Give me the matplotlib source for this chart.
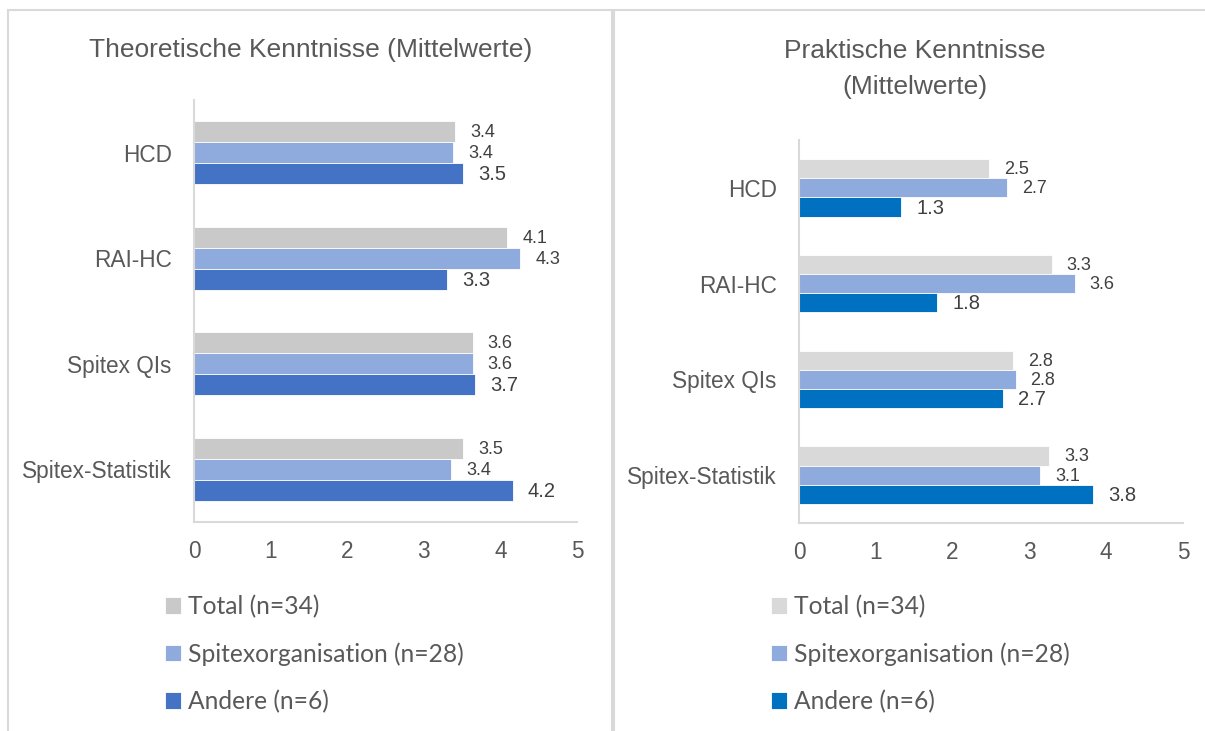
import numpy as np
import matplotlib.pyplot as plt
from matplotlib.patches import Rectangle

# Kategorien und Mittelwerte
kategorien = ['HCD', 'RAI-HC', 'Spitex QIs', 'Spitex-Statistik']
serien = ['Total (n=34)', 'Spitexorganisation (n=28)', 'Andere (n=6)']

theorie_total = [3.41, 4.09, 3.64, 3.51]
theorie_spitex = [3.38, 4.26, 3.64, 3.36]
theorie_andere = [3.51, 3.30, 3.67, 4.16]

praxis_total = [2.47, 3.29, 2.79, 3.26]
praxis_spitex = [2.71, 3.59, 2.82, 3.14]
praxis_andere = [1.33, 1.80, 2.66, 3.83]

farben_links = ['#C9C9C9', '#8FAADC', '#4472C4']
farben_rechts = ['#D9D9D9', '#8FAADC', '#0070C0']

SCHRIFT = ['Liberation Sans', 'DejaVu Sans']
textfarbe = '#595959'

fig = plt.figure(figsize=(12.05, 7.31), dpi=100)

# Rahmen der beiden Diagramme
fig.patches.append(Rectangle((8 / 1205, -0.05), 604 / 1205, 1.05 - 10 / 731,
                             transform=fig.transFigure, fill=False,
                             edgecolor='#D9D9D9', lw=1.5))
fig.patches.append(Rectangle((614 / 1205, -0.05), 600 / 1205, 1.05 - 10 / 731,
                             transform=fig.transFigure, fill=False,
                             edgecolor='#D9D9D9', lw=1.5))


def zeichne(rect, werte, farben, titel, titel_x, titel_y, leg_x):
    ax = fig.add_axes(rect)
    y = np.arange(len(kategorien))
    h = 0.2
    for i, (w, f) in enumerate(zip(werte, farben)):
        pos = y - h + i * h
        ax.barh(pos, w, height=h, color=f, edgecolor='white', linewidth=0.6,
                label=serien[i])
        for p, v in zip(pos, w):
            gross = (i == 2)
            ax.annotate(f'{v:.1f}', (v, p), xytext=(15, -1),
                        textcoords='offset pixels',
                        va='center', ha='left', color='#404040',
                        fontsize=14.5 if gross else 13, family=SCHRIFT)
    ax.set_xlim(0, 5)
    ax.set_ylim(3.5, -0.5)
    ax.set_xticks(range(6))
    ax.set_yticks(y)
    ax.set_yticklabels(kategorien)
    for s in ['top', 'right']:
        ax.spines[s].set_visible(False)
    for s in ['left', 'bottom']:
        ax.spines[s].set_color('#D9D9D9')
        ax.spines[s].set_linewidth(1.5)
    ax.tick_params(axis='both', length=0, colors=textfarbe)
    ax.tick_params(axis='y', pad=16)
    ax.tick_params(axis='x', pad=13)
    for t in ax.get_xticklabels() + ax.get_yticklabels():
        t.set_family(SCHRIFT)
        t.set_fontsize(16.3)
    fig.text(titel_x, titel_y, titel, ha='center', va='center',
             fontsize=19, color=textfarbe, family=SCHRIFT, linespacing=1.6)
    hdl, lab = ax.get_legend_handles_labels()
    leg = ax.legend(hdl, lab, loc='upper left', bbox_to_anchor=(leg_x, 0.2),
                    bbox_transform=fig.transFigure, frameon=False,
                    prop={'family': ['Lato', 'DejaVu Sans'], 'size': 17.7},
                    handlelength=0.65, handleheight=0.65, handletextpad=0.3,
                    labelspacing=0.98, borderaxespad=0)
    for t in leg.get_texts():
        t.set_color(textfarbe)
    return ax


zeichne([194 / 1205, 1 - 522 / 731, 383 / 1205, 422 / 731],
        [theorie_total, theorie_spitex, theorie_andere], farben_links,
        'Theoretische Kenntnisse (Mittelwerte)', 311 / 1205, 1 - 50 / 731,
        155 / 1205)
zeichne([799 / 1205, 1 - 523 / 731, 384 / 1205, 383 / 731],
        [praxis_total, praxis_spitex, praxis_andere], farben_rechts,
        'Praktische Kenntnisse\n(Mittelwerte)', 915 / 1205, 1 - 69 / 731,
        761 / 1205)

fig.savefig('out.png', dpi=100)
